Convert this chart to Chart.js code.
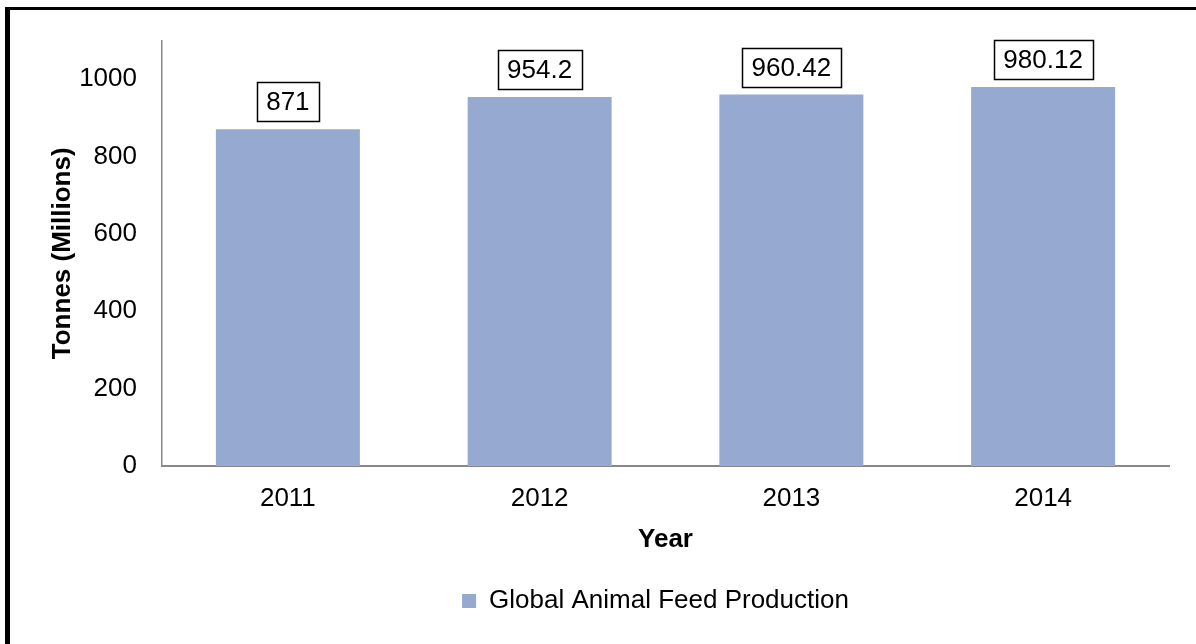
<!DOCTYPE html>
<html>
<head>
<meta charset="utf-8">
<script src="https://cdn.jsdelivr.net/npm/chart.js@4.4.1/dist/chart.umd.min.js"></script>
<style>
  html, body { margin: 0; padding: 0; background: #ffffff; overflow: hidden; }
  #wrap { position: relative; width: 1196px; height: 644px; }
  #frame {
    position: absolute; left: 5px; top: 7px; width: 1300px; height: 700px;
    border-left: 5px solid #000; border-top: 3px solid #000;
    pointer-events: none; box-sizing: border-box;
  }
  canvas { position: absolute; left: 0; top: 0; }
</style>
</head>
<body>
<div id="wrap">
  <canvas id="chart" width="1196" height="644"></canvas>
  <div id="frame"></div>
</div>
<script>
// Global animal feed production by year
const years = ['2011', '2012', '2013', '2014'];
const production = [871, 954.2, 960.42, 980.12];
const yTickValues = [0, 200, 400, 600, 800, 1000];

const FONT = '"Liberation Sans", Arial, Helvetica, sans-serif';
const FONT_SIZE = 26;
const BAR_COLOR = '#95a9d1';
const AXIS_COLOR = '#888888';

// Boxed value labels above each bar
const valueBoxes = {
  id: 'valueBoxes',
  afterDatasetsDraw(chart) {
    const ctx = chart.ctx;
    const meta = chart.getDatasetMeta(0);
    const values = chart.data.datasets[0].data;
    ctx.save();
    ctx.font = FONT_SIZE + 'px ' + FONT;
    ctx.textAlign = 'center';
    ctx.textBaseline = 'middle';
    meta.data.forEach((bar, i) => {
      const text = String(values[i]);
      const w = Math.round(ctx.measureText(text).width + 19);
      const h = 39;
      const bottom = bar.y - 8;
      const left = Math.round(bar.x - w / 2);
      const top = Math.round(bottom - h);
      ctx.fillStyle = '#ffffff';
      ctx.fillRect(left, top, w, h);
      ctx.lineWidth = 1.5;
      ctx.strokeStyle = '#000000';
      ctx.strokeRect(left + 0.5, top + 0.5, w, h);
      ctx.fillStyle = '#000000';
      ctx.fillText(text, bar.x, top + h / 2 + 1);
    });
    ctx.restore();
  }
};

// Center the legend under the plot area rather than the whole canvas
const legendShift = {
  id: 'legendShift',
  afterLayout(chart) {
    const lg = chart.legend;
    const area = chart.chartArea;
    const d = (area.left + area.right) / 2 - 10 - (lg.left + lg.right) / 2;
    lg.left += d;
    lg.right += d;
  }
};

new Chart(document.getElementById('chart'), {
  type: 'bar',
  data: {
    labels: years,
    datasets: [{
      label: 'Global Animal Feed Production',
      data: production,
      backgroundColor: BAR_COLOR,
      borderWidth: 0,
      categoryPercentage: 1,
      barPercentage: 0.572
    }]
  },
  options: {
    responsive: false,
    devicePixelRatio: 1,
    animation: false,
    layout: { padding: { top: 37, right: 27, bottom: 20, left: 0 } },
    plugins: {
      tooltip: { enabled: false },
      legend: {
        position: 'bottom',
        labels: {
          color: '#000000',
          font: { family: FONT, size: FONT_SIZE },
          boxWidth: 14,
          boxHeight: 14,
          padding: 10
        }
      }
    },
    scales: {
      x: {
        grid: { display: false, drawTicks: false },
        border: { display: true, color: AXIS_COLOR, width: 2 },
        ticks: { color: '#000000', font: { family: FONT, size: FONT_SIZE }, padding: 17, maxRotation: 0 },
        title: {
          display: true, text: 'Year', color: '#000000',
          font: { family: FONT, size: FONT_SIZE, weight: 'bold' },
          padding: { top: 0, bottom: 23 }
        },
        afterFit(scale) { scale.height = 112; }
      },
      y: {
        min: 0,
        max: 1100,
        grid: { display: false, drawTicks: false },
        border: { display: true, color: AXIS_COLOR, width: 1.5 },
        ticks: {
          color: '#000000', font: { family: FONT, size: FONT_SIZE }, padding: 25, stepSize: 200,
          callback: v => String(v)
        },
        afterBuildTicks(scale) {
          scale.ticks = yTickValues.map(v => ({ value: v }));
        },
        title: {
          display: true, text: 'Tonnes (Millions)', color: '#000000',
          font: { family: FONT, size: FONT_SIZE, weight: 'bold' },
          padding: { top: 47, bottom: 0 }
        },
        afterFit(scale) { scale.width = 162; }
      }
    }
  },
  plugins: [valueBoxes, legendShift]
});
</script>
</body>
</html>
